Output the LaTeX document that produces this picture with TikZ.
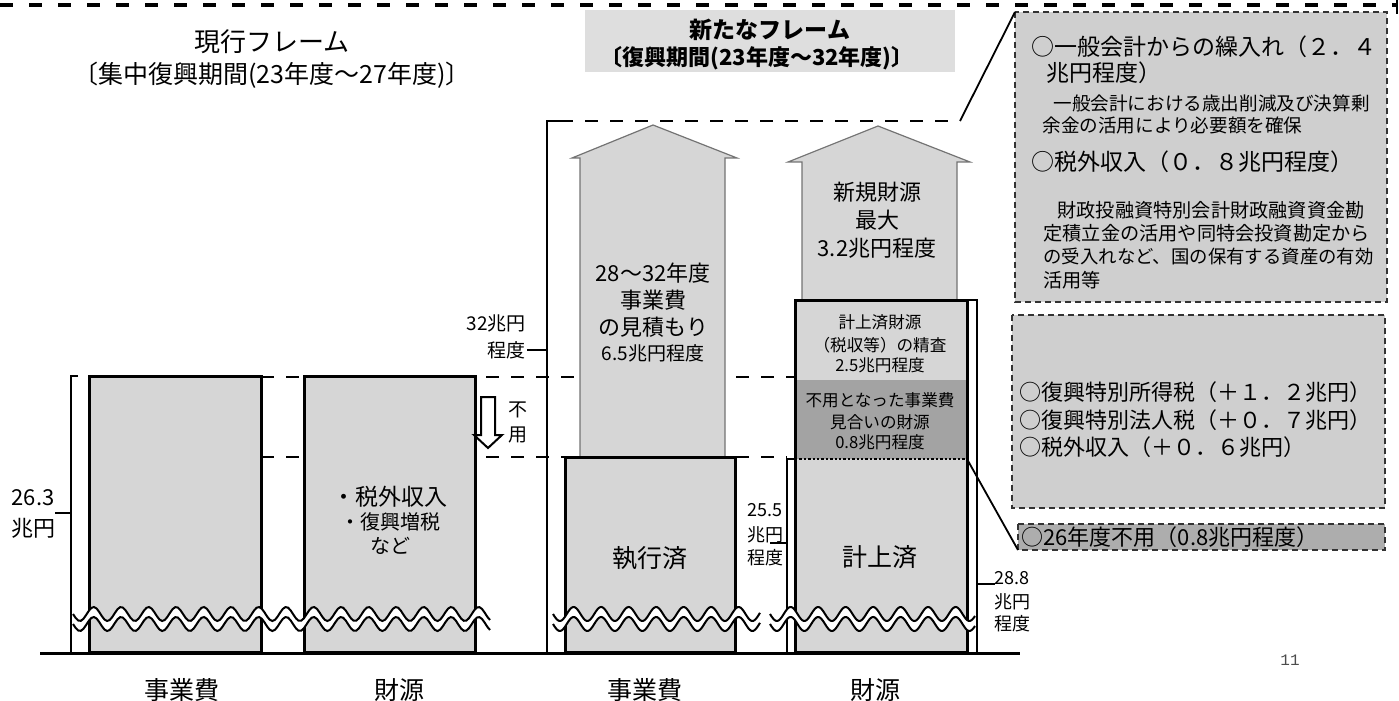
\documentclass[tikz,border=0pt]{standalone}
\usepackage{fontspec}
\setmainfont{Noto Sans CJK JP}
\newfontfamily\monof{Liberation Mono}
\newcommand\fz[1]{\fontsize{#1pt}{#1pt}\selectfont}
\definecolor{stip}{gray}{0.84}
\definecolor{stipdark}{gray}{0.64}
\definecolor{boxg}{gray}{0.81}
\definecolor{boxdark}{gray}{0.68}
\definecolor{titleg}{gray}{0.87}
\tikzset{
  txt/.style={inner sep=0pt, anchor=center},
  ltxt/.style={inner sep=0pt, anchor=west},
  rtxt/.style={inner sep=0pt, anchor=east},
  bar/.style={fill=stip, draw=black, line width=1.5pt},
  dashline/.style={line width=1.2pt, dash pattern=on 6.5pt off 6pt},
  brack/.style={line width=0.9pt},
  upar/.style={fill=stip, draw=black!55, line width=0.6pt},
  rbox/.style={fill=boxg, draw=black!80, line width=0.7pt, densely dashed},
  wav/.style={line width=1pt},
}
\newcommand\brkmark[2]{% start x, length
  \fill[white] plot[domain=0:#2,samples=160] ({#1+\x},{614+7*sin(\x*13.09)})
     -- plot[domain=#2:0,samples=160] ({#1+\x},{624+7*sin(\x*13.09)}) -- cycle;
  \draw[wav] plot[domain=0:#2,samples=160] ({#1+\x},{614+7*sin(\x*13.09)});
  \draw[wav] plot[domain=0:#2,samples=160] ({#1+\x},{624+7*sin(\x*13.09)});
}
\begin{document}
\begin{tikzpicture}[x=0.5pt,y=-0.5pt]
\useasboundingbox (0,0) rectangle (1399,701);
% top page dashed line
\draw[line width=1.6pt, dash pattern=on 6.5pt off 8pt] (0,5) -- (1397,5);
\draw[line width=1.2pt] (1397,0) -- (1397,14);
% title box
\fill[titleg] (585,10) rectangle (955,72);
\node[txt] (tl1) at (272,42) {\fz{13}現行フレーム};
\node[txt] (tl2) at (272,75) {\fz{12.5}〔集中復興期間(23年度～27年度)〕};
\node[txt] (tn1) at (770,30) {\fz{11.5}\bfseries 新たなフレーム};
\node[txt] (tn2) at (757,58) {\fz{11}\bfseries 〔復興期間(23年度～32年度)〕};
% dashed level lines
\draw[dashline] (261,377) -- (795,377);
\draw[dashline] (261,457) -- (787,457);
\coordinate (d1) at (560,121);
\coordinate (d2) at (960,121);
\draw[dashline] (d1) -- (d2);
% upward arrows
\draw[upar] (580,457) -- (580,158) -- (572,158) -- (653,125) -- (737,158) -- (725,158) -- (725,457);
\draw[upar] (802,300) -- (802,162) -- (788,162) -- (878,126) -- (970,162) -- (957,162) -- (957,300);
% bars
\draw[bar] (89,376) rectangle (261,652);
\draw[bar] (304,376) rectangle (475,652);
\draw[bar] (565,457) rectangle (735,652);
\fill[stip] (795,300) rectangle (967,380);
\fill[stipdark] (795,380) rectangle (967,459);
\fill[stip] (795,459) rectangle (967,652);
\draw[line width=1.5pt] (795,300) rectangle (967,652);
\draw[line width=1.2pt, densely dotted] (795,459) -- (967,459);
% down arrow (hollow)
\draw[line width=1pt, fill=white] (481,397) -- (495,397) -- (495,435) -- (502,435) -- (488,448) -- (474,435) -- (481,435) -- cycle;
% brackets
\draw[brack] (78,376) -- (71,376) -- (71,652);
\draw[brack] (55,513) -- (71,513);
\draw[brack] (d1) -- (547,121) -- (547,652);
\draw[brack] (527,350) -- (547,350);
\draw[brack] (795,459) -- (787,459) -- (787,652);
\draw[brack] (770,543) -- (787,543);
\draw[brack] (967,300) -- (977,300) -- (977,652);
\draw[brack] (977,584) -- (995,584);
% baseline
\draw[line width=1.5pt] (40,653) -- (1020,653);
% break marks
\brkmark{73}{417}
\brkmark{553}{207}
\brkmark{770}{205}
% right boxes
\draw[rbox] (1015,12) rectangle (1387,302);
\draw[rbox] (1012,315) rectangle (1385,508);
\draw[rbox, fill=boxdark] (1018,524) rectangle (1385,550);
\draw[line width=0.9pt] (d2) -- (1015,12);
\draw[line width=0.9pt] (967,459) -- (1018,550);
% texts right box 1
\node[ltxt] (r11) at (1031,47) {\fz{11.5}○一般会計からの繰入れ（２．４};
\node[ltxt] (r12) at (1046,73) {\fz{11.5}兆円程度）};
\node[ltxt] (r13) at (1053,103) {\fz{9.3}一般会計における歳出削減及び決算剰};
\node[ltxt] (r14) at (1042,125) {\fz{9.3}余金の活用により必要額を確保};
\node[ltxt] (r15) at (1031,162) {\fz{11.5}○税外収入（０．８兆円程度）};
\node[ltxt] (r16) at (1057,210) {\fz{9.6}財政投融資特別会計財政融資資金勘};
\node[ltxt] (r17) at (1043,233) {\fz{9.6}定積立金の活用や同特会投資勘定から};
\node[ltxt] (r18) at (1043,257) {\fz{9.2}の受入れなど、国の保有する資産の有効};
\node[ltxt] (r19) at (1043,280) {\fz{9.6}活用等};
% right box 2
\node[ltxt] (r21) at (1019,392) {\fz{11}○復興特別所得税（＋１．２兆円）};
\node[ltxt] (r22) at (1019,420) {\fz{11}○復興特別法人税（＋０．７兆円）};
\node[ltxt] (r23) at (1019,447) {\fz{11}○税外収入（＋０．６兆円）};
% right box 3
\node[ltxt] (r31) at (1021,537) {\fz{11}○26年度不用（0.8兆円程度）};
% bar texts
\node[txt, align=center] (b2t) at (390,520) {\fontsize{11.5pt}{15pt}\selectfont ・税外収入\\・復興増税\\など};
\node[txt] (b3t) at (650,558) {\fz{12.5}執行済};
\node[txt] (b4t) at (880,557) {\fz{12.5}計上済};
\node[txt] (a1a) at (653,273) {\fz{11}28～32年度};
\node[txt] (a1b) at (653,300) {\fz{11}事業費};
\node[txt] (a1c) at (653,327) {\fz{11}の見積もり};
\node[txt] (a1d) at (653,353) {\fz{9.5}6.5兆円程度};
\node[txt] (a2a) at (877,192) {\fz{11}新規財源};
\node[txt] (a2b) at (877,220) {\fz{11}最大};
\node[txt] (a2c) at (877,248) {\fz{11}3.2兆円程度};
\node[txt] (u1) at (880,322) {\fz{8.3}計上済財源};
\node[txt] (u2) at (880,345) {\fz{8.3}（税収等）の精査};
\node[txt] (u3) at (880,365) {\fz{8.3}2.5兆円程度};
\node[txt] (m1) at (880,400) {\fz{8.3}不用となった事業費};
\node[txt] (m2) at (880,422) {\fz{8.3}見合いの財源};
\node[txt] (m3) at (880,442) {\fz{8.3}0.8兆円程度};
% bracket labels
\node[txt] (l1a) at (33,498) {\fz{11}26.3};
\node[txt] (l1b) at (33,528) {\fz{11}兆円};
\node[rtxt] (l2a) at (526,323) {\fz{9.5}32兆円};
\node[rtxt] (l2b) at (526,350) {\fz{9.5}程度};
\node[txt] (f1) at (518,410) {\fz{9.5}不};
\node[txt] (f2) at (518,435) {\fz{9.5}用};
\node[txt] (l3a) at (765,510) {\fz{9}25.5};
\node[txt] (l3b) at (765,535) {\fz{9}兆円};
\node[txt] (l3c) at (765,558) {\fz{9}程度};
\node[txt] (l4a) at (1012,578) {\fz{9}28.8};
\node[txt] (l4b) at (1012,602) {\fz{9}兆円};
\node[txt] (l4c) at (1012,624) {\fz{9}程度};
% axis labels
\node[txt] (x1) at (182,690) {\fz{12.5}事業費};
\node[txt] (x2) at (399,690) {\fz{12.5}財源};
\node[txt] (x3) at (645,690) {\fz{12.5}事業費};
\node[txt] (x4) at (875,690) {\fz{12.5}財源};
\node[txt, text=black!70] (pg) at (1290,660) {\fz{8}\monof 11};
\end{tikzpicture}
\end{document}
